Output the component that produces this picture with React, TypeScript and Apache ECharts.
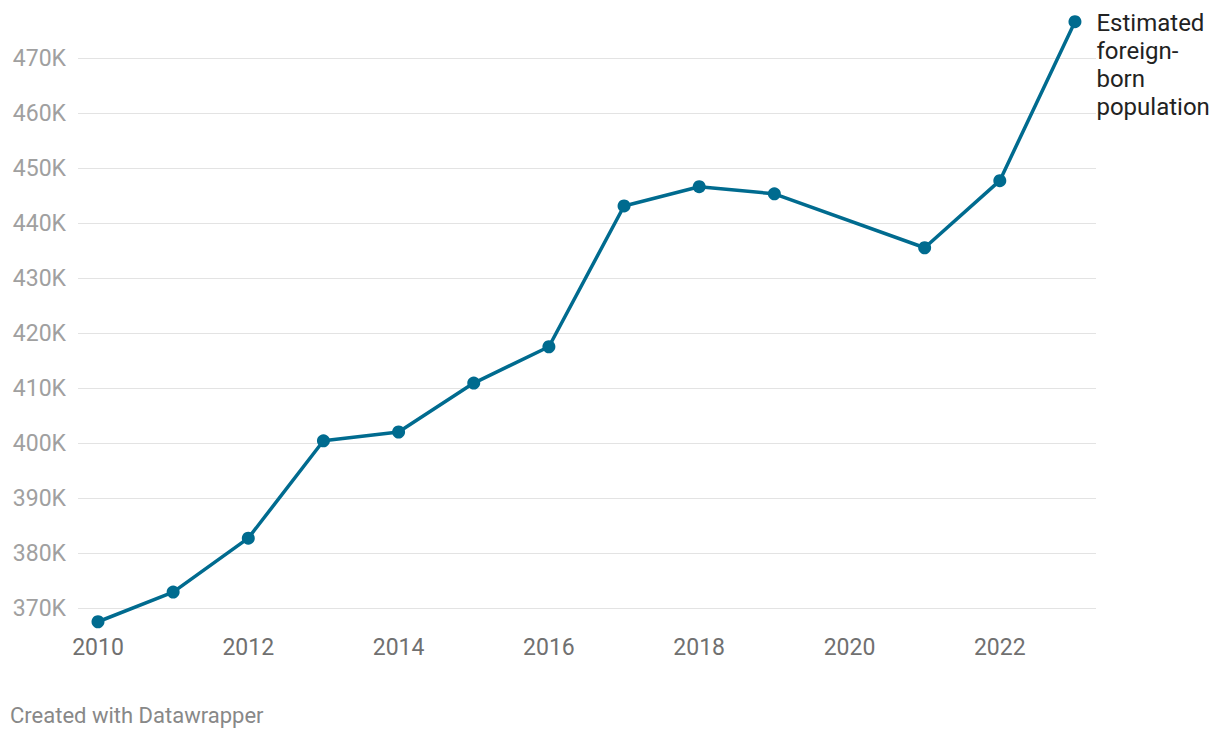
import React, { useEffect, useRef } from "react";
import * as echarts from "echarts";

const years = [2010, 2011, 2012, 2013, 2014, 2015, 2016, 2017, 2018, 2019, 2021, 2022, 2023];
const values = [367.5, 372.9, 382.7, 400.4, 402.0, 410.9, 417.5, 443.1, 446.6, 445.3, 435.5, 447.7, 476.6];
const xTicks = [2010, 2012, 2014, 2016, 2018, 2020, 2022];
const seriesName = "Estimated\nforeign-\nborn\npopulation";
const footer = "Created with Datawrapper";

export default function App() {
  const ref = useRef<HTMLDivElement>(null);
  useEffect(() => {
    document.body.style.margin = "0";
    const chart = echarts.init(ref.current!, null, { renderer: "svg" });
    const data = years.map((y, i) => ({
      value: [y, values[i] * 1000],
      label:
        i === years.length - 1
          ? {
              show: true,
              position: "right",
              distance: 15,
              offset: [0, 43],
              formatter: seriesName,
              color: "#222",
              fontSize: 24,
              lineHeight: 28,
              fontFamily: "Roboto",
              align: "left",
            }
          : { show: false },
    }));
    chart.setOption({
      animation: false,
      textStyle: { fontFamily: "Roboto" },
      title: {
        text: footer,
        left: 5,
        top: 699,
        textStyle: { fontSize: 22, fontWeight: "normal", color: "#888", fontFamily: "Roboto" },
      },
      grid: { left: 78, right: 124, top: 58, bottom: 130, containLabel: false },
      xAxis: {
        type: "value",
        min: 2009.734,
        max: 2023.28,
        axisLine: { show: false },
        axisTick: { show: false },
        splitLine: { show: false },
        axisLabel: {
          customValues: xTicks,
          color: "#707070",
          fontSize: 23,
          margin: 28,
          fontFamily: "Roboto",
          formatter: (v: number) => String(Math.round(v)),
        },
      },
      yAxis: {
        type: "value",
        min: 370000,
        max: 470000,
        interval: 10000,
        axisLine: { show: false },
        axisTick: { show: false },
        splitLine: { lineStyle: { color: "#e3e3e3", width: 1 } },
        axisLabel: {
          color: "#a0a0a0",
          fontSize: 23,
          margin: 12,
          fontFamily: "Roboto",
          formatter: (v: number) => v / 1000 + "K",
        },
      },
      series: [
        {
          type: "line",
          data,
          clip: false,
          symbol: "circle",
          symbolSize: 13,
          showAllSymbol: true,
          lineStyle: { color: "#006b8f", width: 3.5 },
          itemStyle: { color: "#006b8f" },
        },
      ],
    });
    return () => chart.dispose();
  }, []);
  return <div ref={ref} style={{ width: 1220, height: 738 }} />;
}
